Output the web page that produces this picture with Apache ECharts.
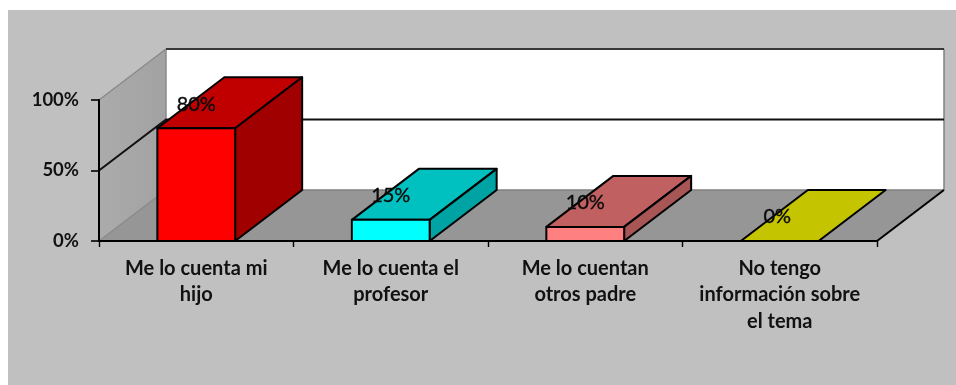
<!DOCTYPE html>
<html><head><meta charset="utf-8">
<style>html,body{margin:0;padding:0;background:#fff}#c{width:956px;height:385px}</style>
<script src="https://cdn.jsdelivr.net/npm/echarts@6/dist/echarts.min.js"></script>
</head><body><div id="c"></div>
<script>
const categories = ['Me lo cuenta mi\nhijo', 'Me lo cuenta el\nprofesor', 'Me lo cuentan\notros padre', 'No tengo\ninformación sobre\nel tema'];
const values = [80, 15, 10, 0];
const valueLabels = ['80%', '15%', '10%', '0%'];
const frontColors = ['#ff0000', '#00ffff', '#ff8080', '#ffff00'];
const topColors = ['#c00000', '#00c0c0', '#c06060', '#c4c400'];
const sideColors = ['#a00000', '#00a3a3', '#a85555', '#a0a000'];

const DX = 67, DY = -51, BAR_RATIO = 0.4;
const FONT = 'Lato, "Open Sans", sans-serif';

function poly(points, fill, stroke, lw) {
  return { type: 'polygon', shape: { points }, style: { fill, stroke: stroke || 'none', lineWidth: lw || 0, lineJoin: 'round' } };
}
function line(points, stroke, lw) {
  return { type: 'polyline', shape: { points }, style: { fill: 'none', stroke, lineWidth: lw } };
}

function renderWalls(params, api) {
  const b = params.coordSys;
  const xL = b.x, xR = b.x + b.width, yB = b.y + b.height, yT = b.y;
  const y50 = api.coord([0, 50])[1];
  const d = (p) => [p[0] + DX, p[1] + DY];
  return { type: 'group', children: [
    poly([d([xL, yT]), d([xR, yT]), d([xR, yB]), d([xL, yB])], '#ffffff'),
    { type: 'polygon', shape: { points: [[xL, yT], d([xL, yT]), d([xL, yB]), [xL, yB]] },
      style: { fill: { type: 'linear', x: 0, y: 0, x2: 1, y2: 0, colorStops: [{ offset: 0, color: '#ababab' }, { offset: 1, color: '#a2a2a2' }] } } },
    poly([[xL, yB], [xR, yB], d([xR, yB]), d([xL, yB])], '#969696'),
    line([[xL, yT], d([xL, yT])], '#8a8a8a', 1.5),
    line([d([xL, yT]), d([xL, yB]), [xL, yB]], '#8a8a8a', 1.5),
    line([d([xL, yB]), d([xR, yB])], '#808080', 1.5),
    line([d([xR, yT]), d([xR, yB])], '#808080', 1.5),
    line([d([xL, yT]), d([xR, yT])], '#383838', 2),
    line([[xL, y50], d([xL, y50]), d([xR, y50])], '#111111', 2),
    line([[xR, yB], d([xR, yB])], '#000000', 2)
  ] };
}

function renderBar(params, api) {
  const i = api.value(0), v = api.value(1);
  const c = api.coord([i, v]), base = api.coord([i, 0]);
  const w = api.size([1, 0])[0] * BAR_RATIO;
  const l = c[0] - w / 2, r = c[0] + w / 2, t = c[1], b = base[1];
  const k = '#000000', lw = 2;
  const kids = [
    poly([[l, t], [r, t], [r + DX, t + DY], [l + DX, t + DY]], topColors[i], k, lw)
  ];
  if (v > 0) {
    kids.push(poly([[r, t], [r + DX, t + DY], [r + DX, b + DY], [r, b]], sideColors[i], k, lw));
    kids.push(poly([[l, t], [r, t], [r, b], [l, b]], frontColors[i], k, lw));
  }
  kids.push({ type: 'text', z2: 10, style: {
    text: valueLabels[i], x: c[0] - (v === 0 ? 2.5 : 0), y: t - 24, align: 'center', verticalAlign: 'middle',
    font: '400 20px ' + FONT, fill: '#0a0a0a', stroke: '#0a0a0a', lineWidth: 0.35
  } });
  return { type: 'group', children: kids };
}

const chart = echarts.init(document.getElementById('c'), null, { renderer: 'canvas' });
chart.setOption({
  animation: false,
  backgroundColor: '#ffffff',
  graphic: [{ type: 'rect', z: -10, silent: true, shape: { x: 8, y: 10, width: 948, height: 375 }, style: { fill: '#c0c0c0' } }],
  grid: { left: 99, right: 79, top: 100, bottom: 144, containLabel: false },
  xAxis: {
    type: 'category', data: categories, z: 5,
    axisLine: { show: true, onZero: false, lineStyle: { color: '#000', width: 2 } },
    axisTick: { show: true, alignWithLabel: false, length: 6, lineStyle: { color: '#000', width: 1.4 } },
    axisLabel: { interval: 0, margin: 14, color: '#111', fontFamily: FONT, fontWeight: 700, fontSize: 20, lineHeight: 26.5, verticalAlign: 'top' }
  },
  yAxis: {
    type: 'value', min: 0, max: 100, interval: 50, z: 5,
    axisLine: { show: true, lineStyle: { color: '#000', width: 2 } },
    axisTick: { show: true, length: 8, lineStyle: { color: '#000', width: 1.6 } },
    axisLabel: { margin: 20, color: '#111', fontFamily: FONT, fontWeight: 700, fontSize: 18.5, padding: [5, 0, 0, 0], formatter: '{value}%' },
    splitLine: { show: false }
  },
  series: [
    { type: 'custom', name: 'walls', z: 1, silent: true, clip: false, coordinateSystem: 'cartesian2d', renderItem: renderWalls, data: [[0, 0]], encode: { x: 0, y: 1 } },
    { type: 'custom', name: 'bars', z: 6, silent: true, clip: false, coordinateSystem: 'cartesian2d', renderItem: renderBar, data: values.map((v, i) => [i, v]), encode: { x: 0, y: 1 } }
  ]
});
</script></body></html>
